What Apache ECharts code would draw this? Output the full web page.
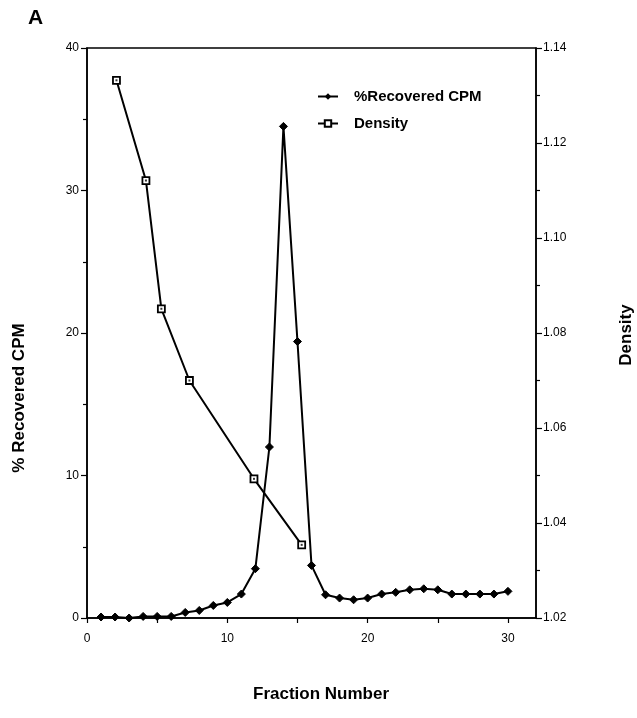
<!DOCTYPE html>
<html>
<head>
<meta charset="utf-8">
<script src="https://cdn.jsdelivr.net/npm/echarts@6/dist/echarts.min.js"></script>
<style>
html,body{margin:0;padding:0;background:#fff;}
#chart{width:637px;height:718px;}
</style>
</head>
<body>
<div id="chart"></div>
<script>
// Fraction numbers and % recovered CPM
const fractions = [1,2,3,4,5,6,7,8,9,10,11,12,13,14,15,16,17,18,19,20,21,22,23,24,25,26,27,28,29,30];
const cpm = [0.07,0.07,0,0.11,0.11,0.11,0.39,0.53,0.88,1.09,1.68,3.46,12.0,34.5,19.4,3.69,1.63,1.40,1.28,1.40,1.68,1.80,1.98,2.05,1.98,1.68,1.68,1.68,1.68,1.87];
// Density measurements (fraction position, density)
const densityX = [2.1,4.2,5.3,7.3,11.9,15.3];
const density = [1.1332,1.1121,1.0851,1.0700,1.0493,1.0354];
const xTicks = [0,5,10,15,20,25,30];
const xLabels = [0,10,20,30];

const FONT = '"Liberation Sans", Arial, Helvetica, sans-serif';
const chart = echarts.init(document.getElementById('chart'), null, {renderer:'canvas'});

const cpmData = fractions.map((f,i)=>[f,cpm[i]]);
const densData = densityX.map((f,i)=>[f,density[i]]);

chart.setOption({
  animation:false,
  backgroundColor:'#fff',
  textStyle:{fontFamily:FONT,color:'#000'},
  grid:{left:87,right:101,top:48,bottom:100,show:true,borderColor:'#000',borderWidth:1.5,backgroundColor:'transparent'},
  legend:{
    orient:'vertical',left:312,top:84,itemWidth:20,itemHeight:8,itemGap:12,
    textStyle:{fontFamily:FONT,fontWeight:'bold',fontSize:15,color:'#000',padding:[0,0,0,11]},
    data:[{name:'%Recovered CPM'},{name:'Density'}]
  },
  xAxis:{
    type:'value',min:0,max:32,
    axisLine:{lineStyle:{color:'#000',width:1.5}},
    axisTick:{show:true,length:5,customValues:xTicks,lineStyle:{color:'#000',width:1.2}},
    axisLabel:{customValues:xLabels,color:'#000',fontSize:12,fontFamily:FONT,margin:15},
    splitLine:{show:false}
  },
  yAxis:[{
    type:'value',min:0,max:40,interval:10,position:'left',
    axisLine:{show:true,lineStyle:{color:'#000',width:1.5}},
    axisTick:{show:true,length:6,lineStyle:{color:'#000',width:1.2}},
    minorTick:{show:true,splitNumber:2,length:4,lineStyle:{color:'#000',width:1.2}},
    axisLabel:{color:'#000',fontSize:12,fontFamily:FONT,margin:8},
    splitLine:{show:false}
  },{
    type:'value',min:1.02,max:1.14,interval:0.02,position:'right',
    axisLine:{show:true,lineStyle:{color:'#000',width:1.5}},
    axisTick:{show:true,length:6,lineStyle:{color:'#000',width:1.2}},
    minorTick:{show:true,splitNumber:2,length:4,lineStyle:{color:'#000',width:1.2}},
    axisLabel:{color:'#000',fontSize:12,fontFamily:FONT,margin:7,formatter:v=>v.toFixed(2)},
    splitLine:{show:false}
  }],
  series:[{
    name:'%Recovered CPM',type:'line',yAxisIndex:0,data:cpmData,
    symbol:'diamond',symbolSize:8,showAllSymbol:true,
    lineStyle:{color:'#000',width:2},itemStyle:{color:'#000',borderColor:'#000'},z:3
  },{
    name:'Density',type:'line',yAxisIndex:1,data:densData,
    symbol:'rect',symbolSize:7,showAllSymbol:true,
    lineStyle:{color:'#000',width:2},itemStyle:{color:'#fff',borderColor:'#000',borderWidth:1.8},z:4
  },{
    name:'DensityDot',type:'scatter',yAxisIndex:1,data:densData,
    symbol:'rect',symbolSize:2,itemStyle:{color:'#000'},z:5,silent:true
  }],
  graphic:[
    {type:'text',left:28,top:8,style:{text:'A',font:'bold 21px '+FONT,fill:'#000'}},
    {type:'text',x:19,y:398,rotation:Math.PI/2,style:{text:'% Recovered CPM',font:'bold 17px '+FONT,fill:'#000',textAlign:'center',textVerticalAlign:'middle'}},
    {type:'text',x:626,y:335,rotation:Math.PI/2,style:{text:'Density',font:'bold 17px '+FONT,fill:'#000',textAlign:'center',textVerticalAlign:'middle'}},
    {type:'text',x:321,y:694,style:{text:'Fraction Number',font:'bold 17px '+FONT,fill:'#000',textAlign:'center',textVerticalAlign:'middle'}}
  ]
});
</script>
</body>
</html>
